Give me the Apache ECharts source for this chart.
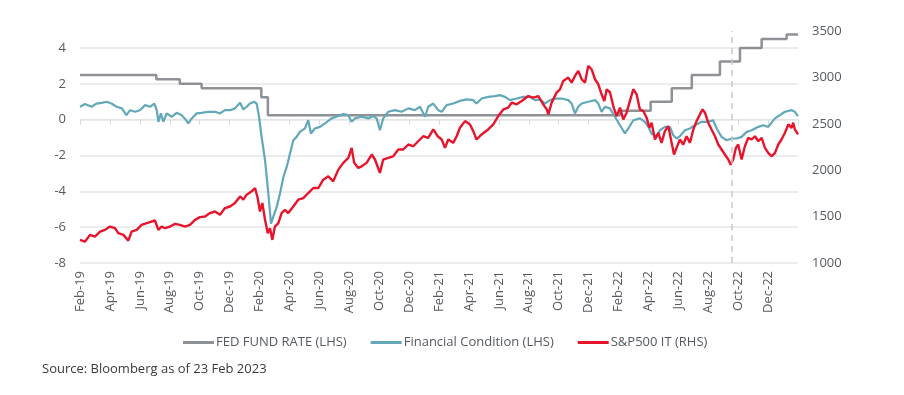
<!DOCTYPE html>
<html>
<head>
<meta charset="utf-8">
<script src="https://cdn.jsdelivr.net/npm/echarts@6/dist/echarts.min.js"></script>
<style>
  html, body { margin: 0; padding: 0; background: #ffffff; }
  #chart { width: 904px; height: 395px; }
</style>
</head>
<body>
<div id="chart"></div>
<script>
// x values are months elapsed since the first label (Feb-19)
var tickLabels = ['Feb-19','Apr-19','Jun-19','Aug-19','Oct-19','Dec-19','Feb-20','Apr-20','Jun-20','Aug-20','Oct-20','Dec-20',
  'Feb-21','Apr-21','Jun-21','Aug-21','Oct-21','Dec-21','Feb-22','Apr-22','Jun-22','Aug-22','Oct-22','Dec-22'];

var seriesNames = ['FED FUND RATE (LHS)', 'Financial Condition (LHS)', 'S&P500 IT (RHS)'];

// FED FUND RATE (step, LHS)
var fedRate = [[0,2.5],[5.1,2.25],[6.67,2.0],[8.13,1.75],[12.12,1.25],[12.56,0.25],[36.1,0.5],[38.15,1.0],
  [39.56,1.75],[40.9,2.5],[42.78,3.25],[44.12,4.0],[45.57,4.5],[47.24,4.75],[48,4.75]];

// Financial Condition (LHS)
var finCond = [[0,0.72],[0.33,0.87],[0.78,0.72],[1.1,0.9],[1.45,0.94],[1.78,1.0],[2.1,0.9],[2.45,0.72],[2.8,0.63],
  [3.1,0.25],[3.35,0.53],[3.68,0.44],[4.0,0.53],[4.35,0.81],[4.68,0.72],[4.97,0.9],[5.13,0.53],[5.24,-0.12],
  [5.41,0.35],[5.57,-0.12],[5.8,0.35],[6.13,0.16],[6.46,0.38],[6.8,0.25],[7.0,0.07],[7.24,-0.21],[7.47,0.07],
  [7.8,0.35],[8.13,0.38],[8.58,0.44],[9.02,0.44],[9.36,0.35],[9.69,0.53],[10.03,0.53],[10.36,0.63],[10.7,0.94],
  [10.92,0.57],[11.14,0.72],[11.36,0.9],[11.65,1.0],[11.81,0.9],[11.97,0.16],[12.14,-0.96],[12.37,-2.26],
  [12.59,-4.12],[12.77,-5.8],[12.92,-5.43],[13.15,-4.87],[13.37,-4.12],[13.6,-3.2],[13.82,-2.64],[14.04,-1.89],
  [14.26,-1.15],[14.48,-0.96],[14.7,-0.68],[15.04,-0.49],[15.26,-0.03],[15.44,-0.77],[15.7,-0.49],[16.04,-0.4],
  [16.38,-0.21],[16.82,0.07],[17.27,0.2],[17.6,0.31],[17.94,0.25],[18.16,-0.12],[18.38,0.07],[18.83,0.16],
  [19.27,0.07],[19.6,0.2],[19.83,0.07],[20.05,-0.59],[20.27,0.07],[20.61,0.44],[21.06,0.53],[21.5,0.44],
  [21.95,0.63],[22.39,0.53],[22.73,0.72],[23.06,0.16],[23.28,0.72],[23.62,0.9],[23.95,0.53],[24.18,0.44],
  [24.51,0.81],[24.95,0.9],[25.4,1.05],[25.85,1.13],[26.29,1.09],[26.51,0.9],[26.85,1.18],[27.29,1.27],
  [27.74,1.31],[28.07,1.37],[28.41,1.27],[28.74,1.09],[29.19,1.18],[29.63,1.27],[30.08,1.27],[30.41,1.09],
  [30.75,1.13],[31.08,0.9],[31.42,1.09],[31.75,1.18],[32.2,1.18],[32.64,1.09],[32.87,0.9],[33.09,0.35],
  [33.31,0.72],[33.54,0.9],[33.98,1.0],[34.43,1.09],[34.65,0.9],[34.87,0.44],[35.09,0.72],[35.43,0.63],
  [35.76,0.16],[36.1,-0.31],[36.43,-0.77],[36.66,-0.49],[36.99,-0.03],[37.43,0.07],[37.77,-0.12],[37.99,-0.4],
  [38.21,-0.77],[38.55,-0.96],[38.77,-0.59],[39.1,-0.4],[39.44,-0.4],[39.66,-0.87],[39.88,-1.05],[40.11,-0.92],
  [40.44,-0.59],[40.78,-0.49],[41.11,-0.31],[41.56,-0.12],[42.0,-0.12],[42.33,-0.03],[42.56,-0.49],[42.89,-0.96],
  [43.23,-1.15],[43.56,-1.05],[43.9,-1.05],[44.23,-0.96],[44.57,-0.68],[44.9,-0.59],[45.35,-0.4],[45.68,-0.31],
  [46.01,-0.4],[46.46,0.07],[46.79,0.25],[47.13,0.44],[47.57,0.53],[47.79,0.44],[48.0,0.2]];

// S&P500 IT (RHS)
var spIT = [[0,1249],[0.33,1230],[0.67,1303],[1.0,1285],[1.34,1339],[1.67,1357],[2.0,1393],[2.34,1375],[2.56,1321],
  [2.9,1303],[3.23,1241],[3.45,1339],[3.79,1357],[4.12,1411],[4.46,1430],[4.79,1447],[5.01,1458],[5.24,1357],
  [5.46,1393],[5.68,1375],[6.02,1393],[6.35,1422],[6.68,1411],[7.02,1393],[7.35,1411],[7.69,1465],[8.02,1494],
  [8.36,1501],[8.69,1538],[9.02,1555],[9.36,1519],[9.69,1592],[10.03,1609],[10.36,1646],[10.7,1717],[10.92,1682],
  [11.14,1736],[11.48,1772],[11.7,1808],[11.88,1700],[12.03,1555],[12.19,1646],[12.37,1465],[12.55,1321],
  [12.7,1375],[12.86,1249],[13.03,1393],[13.26,1430],[13.48,1538],[13.7,1574],[13.92,1538],[14.26,1609],
  [14.59,1682],[14.93,1700],[15.26,1754],[15.6,1808],[15.93,1808],[16.26,1898],[16.6,1934],[16.93,1880],
  [17.27,2006],[17.6,2079],[17.94,2133],[18.16,2241],[18.33,2079],[18.6,2025],[18.83,2042],[19.16,2079],
  [19.5,2169],[19.72,2115],[20.05,1971],[20.27,2115],[20.61,2133],[20.94,2150],[21.28,2223],[21.61,2223],
  [21.95,2277],[22.28,2258],[22.61,2312],[22.95,2366],[23.28,2349],[23.62,2439],[23.91,2366],[24.18,2331],
  [24.4,2241],[24.62,2331],[24.95,2295],[25.18,2366],[25.4,2457],[25.74,2529],[26.07,2493],[26.29,2421],
  [26.51,2331],[26.85,2385],[27.29,2439],[27.63,2493],[27.96,2583],[28.3,2655],[28.63,2674],[28.86,2728],
  [29.19,2710],[29.53,2745],[29.97,2799],[30.3,2782],[30.64,2799],[30.97,2710],[31.2,2655],[31.31,2601],
  [31.53,2728],[31.86,2836],[32.09,2872],[32.31,2962],[32.64,2998],[32.87,2944],[33.09,3016],[33.31,3070],
  [33.54,2980],[33.76,2944],[33.98,3124],[34.2,3088],[34.43,2980],[34.65,2926],[34.87,2818],[35.05,2745],
  [35.21,2872],[35.43,2840],[35.65,2691],[35.87,2583],[36.1,2674],[36.32,2547],[36.54,2620],[36.76,2745],
  [36.99,2872],[37.21,2818],[37.43,2655],[37.66,2637],[37.88,2566],[38.06,2457],[38.21,2512],[38.44,2331],
  [38.66,2403],[38.88,2295],[39.1,2421],[39.33,2475],[39.55,2295],[39.71,2169],[39.88,2241],[40.11,2331],
  [40.33,2277],[40.55,2366],[40.78,2295],[41.0,2439],[41.22,2529],[41.44,2601],[41.62,2655],[41.78,2620],
  [42.0,2512],[42.22,2439],[42.45,2366],[42.67,2277],[42.89,2223],[43.11,2169],[43.34,2115],[43.5,2060],
  [43.67,2115],[43.85,2241],[44.0,2277],[44.23,2115],[44.45,2258],[44.67,2349],[44.9,2331],[45.12,2366],
  [45.35,2312],[45.57,2349],[45.79,2241],[46.01,2187],[46.24,2150],[46.46,2187],[46.68,2277],[46.9,2331],
  [47.13,2403],[47.35,2493],[47.57,2457],[47.68,2512],[47.79,2439],[48.0,2385]];

var markerMonth = 43.58; // dashed vertical marker

var leftTicks = { min: -8, max: 4, interval: 2 };
var rightTicks = { min: 1000, max: 3500, interval: 500 };

var colors = ['#8e9196', '#62a8b8', '#e8142c'];
var labelColor = '#555a60';
var fontFam = '"Open Sans", "Noto Sans", sans-serif';

var chart = echarts.init(document.getElementById('chart'), null, { renderer: 'canvas' });

var xBase = { type: 'value', min: 0, max: 48, interval: 2 };

var option = {
  animation: false,
  backgroundColor: '#ffffff',
  textStyle: { fontFamily: fontFam },
  color: colors,
  grid: [
    { left: 80, right: 106, top: 48, bottom: 132, containLabel: false },
    { left: 80, right: 106, top: 31, bottom: 132, containLabel: false }
  ],
  legend: {
    left: 178, top: 331,
    itemWidth: 31, itemHeight: 3, itemGap: 24,
    icon: 'rect',
    textStyle: { color: labelColor, fontSize: 13, fontFamily: fontFam, padding: [0, 0, 0, -3] },
    data: seriesNames
  },
  xAxis: [
    Object.assign({}, xBase, {
      gridIndex: 0,
      position: 'bottom',
      axisLine: { show: false, onZero: false },
      axisTick: { show: false },
      splitLine: { show: false },
      axisLabel: {
        rotate: 90, margin: 8, fontSize: 13, color: labelColor, fontFamily: fontFam,
        formatter: function (v) { var i = Math.round(v / 2); return tickLabels[i] || ''; }
      }
    }),
    Object.assign({}, xBase, {
      gridIndex: 0,
      position: 'bottom',
      axisLine: { show: true, onZero: true, lineStyle: { color: '#e4e4e4', width: 1 } },
      axisTick: { show: true, length: 5, lineStyle: { color: '#d8d8d8' } },
      splitLine: { show: false },
      axisLabel: { show: false }
    }),
    Object.assign({}, xBase, { gridIndex: 1, show: false })
  ],
  yAxis: [
    {
      type: 'value', gridIndex: 0, position: 'left',
      min: leftTicks.min, max: leftTicks.max, interval: leftTicks.interval,
      axisLine: { show: false }, axisTick: { show: false },
      splitLine: { lineStyle: { color: '#e6e6e6', width: 1.5 } },
      axisLabel: { margin: 14, fontSize: 13, color: labelColor, fontFamily: fontFam }
    },
    {
      type: 'value', gridIndex: 1, position: 'right',
      min: rightTicks.min, max: rightTicks.max, interval: rightTicks.interval,
      axisLine: { show: false }, axisTick: { show: false },
      splitLine: { show: false },
      axisLabel: { margin: 14, fontSize: 13, color: labelColor, fontFamily: fontFam,
        formatter: function (v) { return String(v); } }
    }
  ],
  series: [
    {
      name: seriesNames[0], type: 'line', xAxisIndex: 0, yAxisIndex: 0,
      step: 'end', data: fedRate, showSymbol: false, symbol: 'none', clip: false,
      lineStyle: { width: 2.5, color: colors[0] }, z: 2
    },
    {
      name: seriesNames[1], type: 'line', xAxisIndex: 0, yAxisIndex: 0,
      data: finCond, showSymbol: false, symbol: 'none',
      lineStyle: { width: 2.2, color: colors[1] }, z: 3
    },
    {
      name: seriesNames[2], type: 'line', xAxisIndex: 2, yAxisIndex: 1,
      data: spIT, showSymbol: false, symbol: 'none',
      lineStyle: { width: 2.4, color: colors[2] }, z: 4,
      markLine: {
        silent: true, symbol: 'none', label: { show: false },
        lineStyle: { type: [6, 5], color: '#c9c9c9', width: 1.5 },
        data: [{ xAxis: markerMonth }]
      }
    }
  ],
  graphic: [
    {
      type: 'text', left: 42, top: 363,
      style: { text: 'Source: Bloomberg as of 23 Feb 2023', fill: '#3a3a3a', font: '500 13px ' + fontFam }
    }
  ]
};

chart.setOption(option);
</script>
</body>
</html>
